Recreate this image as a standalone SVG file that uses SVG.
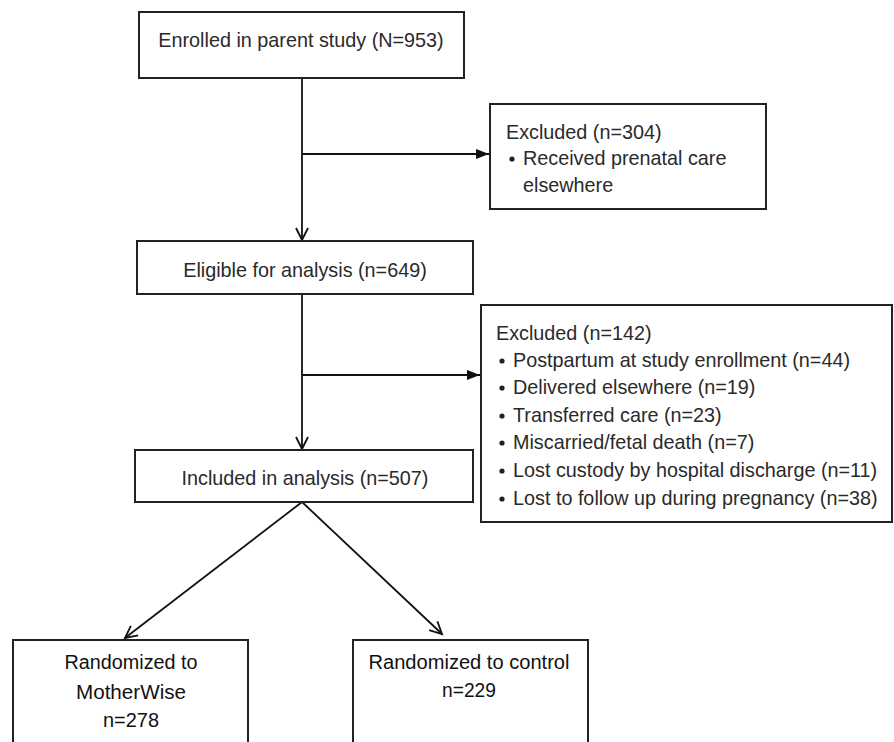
<svg xmlns="http://www.w3.org/2000/svg" width="894" height="742" viewBox="0 0 894 742">
<defs>
<style>
.box{fill:#fff;stroke:#222;stroke-width:2}
.t{font-family:"Liberation Sans",Arial,sans-serif;font-size:19.8px;fill:#2a2a2a}
.c{text-anchor:middle}
.r{font-family:"Liberation Sans Narrow","Liberation Sans",Arial,sans-serif;font-size:20px;fill:#111;text-anchor:middle}
.ln{fill:none;stroke:#111;stroke-width:1.8}
.dot{fill:#222}
</style>
<marker id="open" markerUnits="userSpaceOnUse" markerWidth="16" markerHeight="16" viewBox="0 0 16 16" refX="13" refY="8" orient="auto">
<path d="M1,2 L13,8 L1,14" fill="none" stroke="#111" stroke-width="1.8"/>
</marker>
<marker id="fill" markerUnits="userSpaceOnUse" markerWidth="16" markerHeight="16" viewBox="0 0 16 16" refX="14" refY="8" orient="auto">
<path d="M1,3 L14,8 L1,13 Z" fill="#111"/>
</marker>
</defs>
<rect width="894" height="742" fill="#fff"/>
<g id="connectors">
<line class="ln" x1="302" y1="78" x2="302" y2="240" marker-end="url(#open)"/>
<line class="ln" x1="302" y1="154" x2="489" y2="154" marker-end="url(#fill)"/>
<line class="ln" x1="302" y1="294" x2="302" y2="449" marker-end="url(#open)"/>
<line class="ln" x1="302" y1="375" x2="480" y2="375" marker-end="url(#fill)"/>
<line class="ln" x1="302" y1="502" x2="125" y2="638" marker-end="url(#open)"/>
<line class="ln" x1="302" y1="502" x2="442" y2="634" marker-end="url(#open)"/>
</g>
<g id="enrolled">
<rect class="box" x="139" y="12" width="325" height="66"/>
<text class="t c" x="301" y="47">Enrolled in parent study (N=953)</text>
</g>
<g id="excluded1">
<rect class="box" x="490" y="104" width="276" height="105"/>
<text class="t" x="506" y="139">Excluded (n=304)</text>
<circle class="dot" cx="512" cy="159" r="2.6"/>
<text class="t" x="523" y="165">Received prenatal care</text>
<text class="t" x="523" y="192">elsewhere</text>
</g>
<g id="eligible">
<rect class="box" x="137" y="241" width="336" height="53"/>
<text class="t c" x="305" y="277">Eligible for analysis (n=649)</text>
</g>
<g id="excluded2">
<rect class="box" x="481" y="305" width="411" height="217"/>
<text class="t" x="496" y="340">Excluded (n=142)</text>
<circle class="dot" cx="502" cy="361" r="2.6"/>
<text class="t" x="513" y="367">Postpartum at study enrollment (n=44)</text>
<circle class="dot" cx="502" cy="388" r="2.6"/>
<text class="t" x="513" y="394">Delivered elsewhere (n=19)</text>
<circle class="dot" cx="502" cy="416" r="2.6"/>
<text class="t" x="513" y="422">Transferred care (n=23)</text>
<circle class="dot" cx="502" cy="443" r="2.6"/>
<text class="t" x="513" y="449">Miscarried/fetal death (n=7)</text>
<circle class="dot" cx="502" cy="471" r="2.6"/>
<text class="t" x="513" y="477">Lost custody by hospital discharge (n=11)</text>
<circle class="dot" cx="502" cy="499" r="2.6"/>
<text class="t" x="513" y="505">Lost to follow up during pregnancy (n=38)</text>
</g>
<g id="included">
<rect class="box" x="135" y="450" width="338" height="52"/>
<text class="t c" x="305" y="485">Included in analysis (n=507)</text>
</g>
<g id="motherwise">
<rect class="box" x="13" y="640" width="235" height="110"/>
<text class="r" x="131" y="669" textLength="133" lengthAdjust="spacingAndGlyphs">Randomized to</text>
<text class="r" x="131" y="699" textLength="110" lengthAdjust="spacingAndGlyphs">MotherWise</text>
<text class="r" x="131" y="727" textLength="56" lengthAdjust="spacingAndGlyphs">n=278</text>
</g>
<g id="control">
<rect class="box" x="353" y="640" width="235" height="110"/>
<text class="r" x="469" y="669" textLength="201" lengthAdjust="spacingAndGlyphs">Randomized to control</text>
<text class="r" x="469" y="697" textLength="54" lengthAdjust="spacingAndGlyphs">n=229</text>
</g>
</svg>
